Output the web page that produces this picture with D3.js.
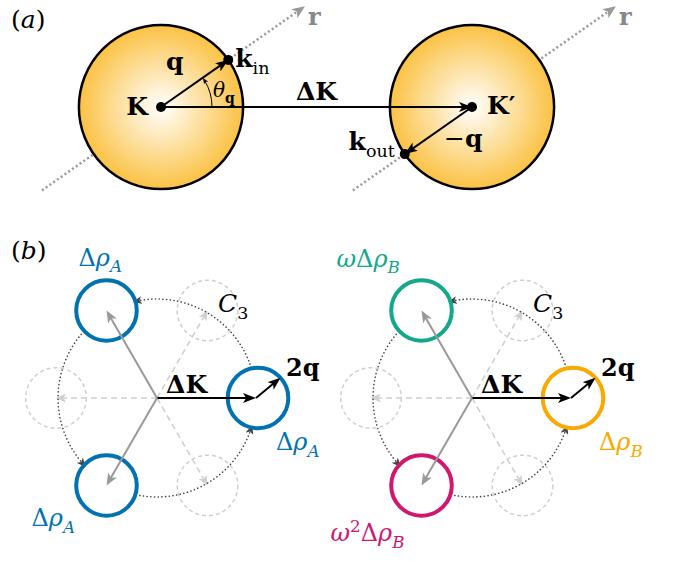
<!DOCTYPE html>
<html>
<head>
<meta charset="utf-8">
<script src="https://cdn.jsdelivr.net/npm/d3@7"></script>
<style>
  body { margin: 0; background: #fff; }
  svg { display: block; }
  text { font-family: "DejaVu Serif", "Liberation Serif", serif; }
</style>
</head>
<body>
<div id="fig"></div>
<script>
'use strict';

// ---- panel (a): valleys K (0) and K' (1) along ΔK, in units of |ΔK|
const valleyPos = [0, 1];
const valleyRadius = 0.264;
const thetaQ = 35;                  // deg, direction of q and of the r line
const rLineSpan = [-1.77, 2.14];    // dotted r line, in valley radii

// ---- panel (b): shells of radius 2q at ΔK and its C3 images
const groupPos = [0, 1];
const shellAngles = [0, 120, 240];
const ghostAngles = [60, 180, 300];
const shellRadius = 0.3;            // in units of |ΔK| of panel (b)
const arcRadius = 0.98;
const twoQAngle = 42;
const c3Arcs = [[20, 102], [140, 222], [260, 342]];
const shellColorsA = ["#0072b2", "#0072b2", "#0072b2"];
const shellColorsB = ["#f9a900", "#14a88a", "#d0176f"];

const P = (t, f = "r", s = null) => ({ t, f, s });
const shellLabelsA = [
    [P("Δ"), P("ρ", "i"), P("A", "i", "sub")],
    [P("Δ"), P("ρ", "i"), P("A", "i", "sub")],
    [P("Δ"), P("ρ", "i"), P("A", "i", "sub")]
];
const shellLabelsB = [
    [P("Δ"), P("ρ", "i"), P("B", "i", "sub")],
    [P("ω", "i"), P("Δ"), P("ρ", "i"), P("B", "i", "sub")],
    [P("ω", "i"), P("2", "r", "sup"), P("Δ"), P("ρ", "i"), P("B", "i", "sub")]
];
// label start offsets from each shell centre [dx, dy]
const shellLabelOffA = [[18, 52], [-28, -45], [-75, 41]];
const shellLabelOffB = [[26, 52], [-85, -44], [-91, 56]];

var width = 681, height = 561;

var svg = d3.select("#fig").append("svg")
    .attr("width", width)
    .attr("height", height);

var defs = svg.append("defs");

var grad = defs.append("radialGradient").attr("id", "valley");
grad.append("stop").attr("offset", "0%").attr("stop-color", "#ffffff");
grad.append("stop").attr("offset", "100%").attr("stop-color", "#fbc244");

function marker(id, color, len, wid) {
    defs.append("marker")
        .attr("id", id)
        .attr("viewBox", "0 0 " + len + " " + wid)
        .attr("markerUnits", "userSpaceOnUse")
        .attr("markerWidth", len)
        .attr("markerHeight", wid)
        .attr("refX", len * 0.6)
        .attr("refY", wid / 2)
        .attr("orient", "auto")
        .append("path")
        .attr("d", "M0,0 L" + len + "," + (wid / 2) + " L0," + wid + " L" + (len * 0.25) + "," + (wid / 2) + "Z")
        .attr("fill", color);
}
marker("hBlack", "#000", 13, 10);
marker("hGreyR", "#999", 13, 11);
marker("hGrey", "#999", 12, 10);
marker("hLight", "#d0d0d0", 10, 9);
marker("hDot", "#444", 9, 8);
marker("hSmall", "#000", 6, 5);

// arrow whose line stops a bit short so the head tip lands on (x2,y2)
function arrow(g, x1, y1, x2, y2, head, len) {
    var dx = x2 - x1, dy = y2 - y1, d = Math.hypot(dx, dy);
    var s = len * 0.4;
    return g.append("line")
        .attr("x1", x1).attr("y1", y1)
        .attr("x2", x2 - dx / d * s).attr("y2", y2 - dy / d * s)
        .attr("marker-end", "url(#" + head + ")");
}

function mathText(g, x, y, parts, size, color, anchor) {
    var t = g.append("text")
        .attr("x", x).attr("y", y)
        .attr("font-size", size)
        .attr("fill", color)
        .attr("text-anchor", anchor || "start");
    var shift = 0;
    parts.forEach(function (p) {
        var target = p.s === "sub" ? size * 0.28 : p.s === "sup" ? -size * 0.4 : 0;
        var ts = t.append("tspan").text(p.t).attr("dy", target - shift);
        shift = target;
        if (p.s) ts.attr("font-size", size * 0.7);
        if (p.f.indexOf("b") >= 0) ts.attr("font-weight", "bold");
        if (p.f.indexOf("i") >= 0) ts.attr("font-style", "italic");
    });
    return t;
}

const rad = (a) => a * Math.PI / 180;

// =============== panel (a) ===============
var xA = d3.scaleLinear().domain([0, 1]).range([161, 472]);
var uA = d3.scaleLinear().domain([0, 1]).range([0, 311]);
var yA = 107;
var R = uA(valleyRadius);
var ga = svg.append("g");

mathText(ga, 11, 28, [P("("), P("a", "i"), P(")")], 25, "#000");

// dotted r lines through each valley centre
valleyPos.forEach(function (v) {
    var cx = xA(v);
    var c = Math.cos(rad(thetaQ)), s = Math.sin(rad(thetaQ));
    var x1 = cx + rLineSpan[0] * R * c, y1 = yA - rLineSpan[0] * R * s;
    var x2 = cx + rLineSpan[1] * R * c, y2 = yA - rLineSpan[1] * R * s;
    arrow(ga, x1, y1, x2, y2, "hGreyR", 13)
        .attr("stroke", "#999")
        .attr("stroke-width", 2.5)
        .attr("stroke-dasharray", "2,2.6");
    mathText(ga, x2 + 3, y2 + 19, [P("r", "b")], 24, "#888");
});

ga.selectAll("circle.valley")
    .data(valleyPos)
    .enter().append("circle")
    .attr("class", "valley")
    .attr("cx", d => xA(d))
    .attr("cy", yA)
    .attr("r", R)
    .attr("fill", "url(#valley)")
    .attr("stroke", "#000")
    .attr("stroke-width", 2.5);

// ΔK
arrow(ga, xA(0), yA, xA(1), yA, "hBlack", 13)
    .attr("stroke", "#000").attr("stroke-width", 2);

// q and -q
var kin = [xA(0) + R * Math.cos(rad(thetaQ)), yA - R * Math.sin(rad(thetaQ))];
var kout = [xA(1) - R * Math.cos(rad(thetaQ)), yA + R * Math.sin(rad(thetaQ))];
arrow(ga, xA(0), yA, kin[0], kin[1], "hBlack", 13).attr("stroke", "#000").attr("stroke-width", 2);
arrow(ga, xA(1), yA, kout[0], kout[1], "hBlack", 13).attr("stroke", "#000").attr("stroke-width", 2);

// θq arc
var p = d3.path();
p.arc(xA(0), yA, 51, 0, -rad(thetaQ - 3), true);
ga.append("path").attr("d", p.toString())
    .attr("fill", "none").attr("stroke", "#000").attr("stroke-width", 1)
    .attr("marker-end", "url(#hSmall)");

[[xA(0), yA], [xA(1), yA], kin, kout].forEach(function (d) {
    ga.append("circle").attr("cx", d[0]).attr("cy", d[1]).attr("r", 5).attr("fill", "#000");
});

mathText(ga, xA(0) - 13, yA + 8, [P("K", "b")], 25, "#000", "end");
mathText(ga, xA(1) + 15, yA + 7, [P("K′", "b")], 25, "#000");
mathText(ga, (xA(0) + xA(1)) / 2, yA - 7, [P("ΔK", "b")], 25, "#000", "middle");
mathText(ga, xA(0) + 5, yA - 37, [P("q", "b")], 25, "#000");
mathText(ga, kin[0] + 7, kin[1] + 7, [P("k", "b"), P("in", "r", "sub")], 25, "#000");
mathText(ga, kout[0] - 10, kout[1] - 4, [P("k", "b"), P("out", "r", "sub")], 25, "#000", "end");
mathText(ga, xA(1) - 28, yA + 40, [P("−"), P("q", "b")], 25, "#000");
mathText(ga, xA(0) + 52, yA - 10, [P("θ", "i"), P("q", "b", "sub")], 20, "#000");

// =============== panel (b) ===============
var xB = d3.scaleLinear().domain([0, 1]).range([157, 472]);
var uB = d3.scaleLinear().domain([0, 1]).range([0, 101]);
var yB = 398;
var gb = svg.append("g");

mathText(gb, 11, 259, [P("("), P("b", "i"), P(")")], 25, "#000");

function polar(cx, a, r) {
    return [cx + uB(r) * Math.cos(rad(a)), yB - uB(r) * Math.sin(rad(a))];
}

groupPos.forEach(function (gp, gi) {
    var cx = xB(gp);
    var colors = gi === 0 ? shellColorsA : shellColorsB;
    var labels = gi === 0 ? shellLabelsA : shellLabelsB;
    var offs = gi === 0 ? shellLabelOffA : shellLabelOffB;

    // ghost shells
    ghostAngles.forEach(function (a) {
        var c = polar(cx, a, 1);
        gb.append("circle")
            .attr("cx", c[0]).attr("cy", c[1]).attr("r", uB(shellRadius))
            .attr("fill", "none").attr("stroke", "#d0d0d0")
            .attr("stroke-width", 1.5).attr("stroke-dasharray", "4,3");
        arrow(gb, cx, yB, c[0], c[1], "hLight", 10)
            .attr("stroke", "#d0d0d0").attr("stroke-width", 1.6)
            .attr("stroke-dasharray", "6,4");
    });

    // C3 dotted arcs
    c3Arcs.forEach(function (a) {
        var ap = d3.path();
        var s = polar(cx, a[0], arcRadius);
        ap.moveTo(s[0], s[1]);
        ap.arc(cx, yB, uB(arcRadius), -rad(a[0]), -rad(a[1]), true);
        gb.append("path").attr("d", ap.toString())
            .attr("fill", "none").attr("stroke", "#444")
            .attr("stroke-width", 1.6).attr("stroke-linecap", "round")
            .attr("stroke-dasharray", "0.1,3.6")
            .attr("marker-end", "url(#hDot)");
    });

    // coloured shells
    shellAngles.forEach(function (a, i) {
        var c = polar(cx, a, 1);
        gb.append("circle")
            .attr("cx", c[0]).attr("cy", c[1]).attr("r", uB(shellRadius))
            .attr("fill", "none").attr("stroke", colors[i]).attr("stroke-width", 4);
    });

    // vectors to shell centres
    shellAngles.forEach(function (a, i) {
        var c = polar(cx, a, 1);
        if (i === 0) {
            arrow(gb, cx, yB, c[0] - 2, c[1], "hBlack", 13).attr("stroke", "#000").attr("stroke-width", 2);
        } else {
            arrow(gb, cx, yB, c[0], c[1], "hGrey", 12).attr("stroke", "#999").attr("stroke-width", 2);
        }
    });

    // 2q
    var c0 = polar(cx, 0, 1);
    var tq = [c0[0] + uB(shellRadius) * Math.cos(rad(twoQAngle)), c0[1] - uB(shellRadius) * Math.sin(rad(twoQAngle))];
    arrow(gb, c0[0] - 2, c0[1], tq[0], tq[1], "hBlack", 13).attr("stroke", "#000").attr("stroke-width", 2);

    mathText(gb, cx + 9, yB - 5, [P("ΔK", "b")], 25, "#000");
    mathText(gb, cx + 129, yB - 22, [P("2q", "b")], 24, "#000");
    mathText(gb, cx + 61, yB - 86, [P("C", "i"), P("3", "r", "sub")], 25, "#000");

    shellAngles.forEach(function (a, i) {
        var c = polar(cx, a, 1);
        mathText(gb, c[0] + offs[i][0], c[1] + offs[i][1], labels[i], 24, colors[i]);
    });
});
</script>
</body>
</html>
